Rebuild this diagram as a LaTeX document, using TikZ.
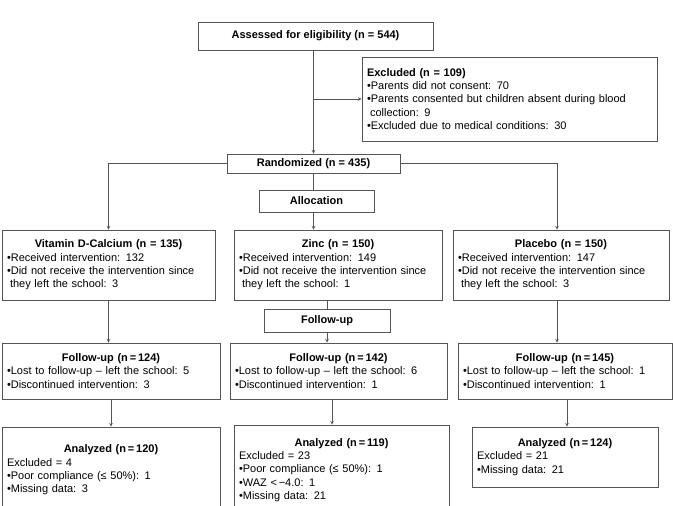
\documentclass[tikz,border=0pt]{standalone}
\usepackage{fontspec}
\setmainfont{Liberation Sans}
\setlength{\parindent}{0pt}
\definecolor{linegray}{RGB}{85,85,85}
\newcommand{\boxhead}[1]{\makebox[\linewidth]{\bfseries #1}\\}
\tikzset{
	box/.style={draw=linegray, line width=.7pt, align=left, inner xsep=5pt, inner ysep=0pt, font=\fontsize{11}{13.4}\selectfont},
	tbox/.style={draw=linegray, line width=.7pt, inner sep=0pt, font=\fontsize{11}{13.4}\selectfont\bfseries},
	link/.style={draw=linegray, line width=.7pt}
}

\begin{document}
\begin{tikzpicture}[x=1pt,y=-1pt,>=stealth]
	\useasboundingbox (0,0) rectangle (673,506);
	\node[tbox, minimum width=235pt, minimum height=28pt] (assess) at (315.5,36) {Assessed for eligibility (n = 544)};
	\node[box, text width=285pt, minimum height=84pt] (excl) at (509.5,99) {\textbf{Excluded (n = 109)}\\ •Parents did not consent: 70\\ •Parents consented but children absent during blood\\ \hspace*{3pt}collection: 9\\ •Excluded due to medical conditions: 30};
	\node[tbox, minimum width=173pt, minimum height=19pt] (rand) at (313.5,163.5) {Randomized (n = 435)};
	\node[tbox, minimum width=115pt, minimum height=22pt] (alloc) at (316.5,201) {Allocation};
	\node[box, text width=203pt, minimum height=70pt] (vit) at (108.5,265) {\boxhead{Vitamin D-Calcium (n = 135)}•Received intervention: 132\\ •Did not receive the intervention since\\ \hspace*{3pt}they left the school: 3};
	\node[box, text width=198pt, minimum height=70pt] (zinc) at (338,265) {\boxhead{Zinc (n = 150)}•Received intervention: 149\\ •Did not receive the intervention since\\ \hspace*{3pt}they left the school: 1};
	\node[box, text width=206pt, minimum height=70pt] (plac) at (561,265) {\boxhead{Placebo (n = 150)}•Received intervention: 147\\ •Did not receive the intervention since\\ \hspace*{3pt}they left the school: 3};
	\node[tbox, minimum width=126pt, minimum height=23pt] (fu) at (327,320.5) {Follow-up};
	\node[box, text width=208pt, minimum height=56pt] (vitfu) at (111,371) {\boxhead{Follow-up (n\,=\,124)}•Lost to follow-up -- left the school: 5\\ •Discontinued intervention: 3};
	\node[box, text width=207pt, minimum height=56pt] (zincfu) at (338.5,371) {\boxhead{Follow-up (n\,=\,142)}•Lost to follow-up -- left the school: 6\\ •Discontinued intervention: 1};
	\node[box, text width=204pt, minimum height=56pt] (placfu) at (565,371) {\boxhead{Follow-up (n\,=\,145)}•Lost to follow-up -- left the school: 1\\ •Discontinued intervention: 1};
	\node[box, text width=208pt, minimum height=86pt] (vitan) at (111,470) {\boxhead{Analyzed (n\,=\,120)}Excluded = 4\\ •Poor compliance (≤ 50\%): 1\\ •Missing data: 3};
	\node[box, text width=205pt, minimum height=90pt] (zincan) at (341.5,470) {\boxhead{Analyzed (n\,=\,119)}Excluded = 23\\ •Poor compliance (≤ 50\%): 1\\ •WAZ <\,−4.0: 1\\ •Missing data: 21};
	\node[box, text width=176pt, minimum height=60pt] (placan) at (565,457) {\boxhead{Analyzed (n\,=\,124)}Excluded = 21\\ •Missing data: 21};
	\draw[link,->] (assess.south -| rand.north) -- (rand.north);
	\draw[link,->] (rand.north |- excl.west) -- (excl.west);
	\draw[link] (rand.south) -- (rand.south |- alloc.north);
	\draw[link,->] (rand.south |- alloc.south) -- (rand.south |- zinc.north);
	\draw[link,->] (rand.west) -| (vit.north);
	\draw[link,->] (rand.east) -| ([xshift=-4pt]plac.north);
	\draw[link,->] (vit.south) -- (vit.south |- vitfu.north);
	\draw[link,->] (vitfu.south) -- (vitfu.south |- vitan.north);
	\draw[link] (fu.north |- zinc.south) -- (fu.north);
	\draw[link,->] (fu.south) -- (fu.south |- zincfu.north);
	\draw[link,->] ([xshift=5pt]fu.south |- zincfu.south) -- ([xshift=5pt]fu.south |- zincan.north);
	\draw[link,->] ([xshift=-4pt]plac.south) -- ([xshift=-4pt]plac.south |- placfu.north);
	\draw[link,->] ([xshift=2pt]placfu.south) -- ([xshift=2pt]placfu.south |- placan.north);
\end{tikzpicture}
\end{document}
